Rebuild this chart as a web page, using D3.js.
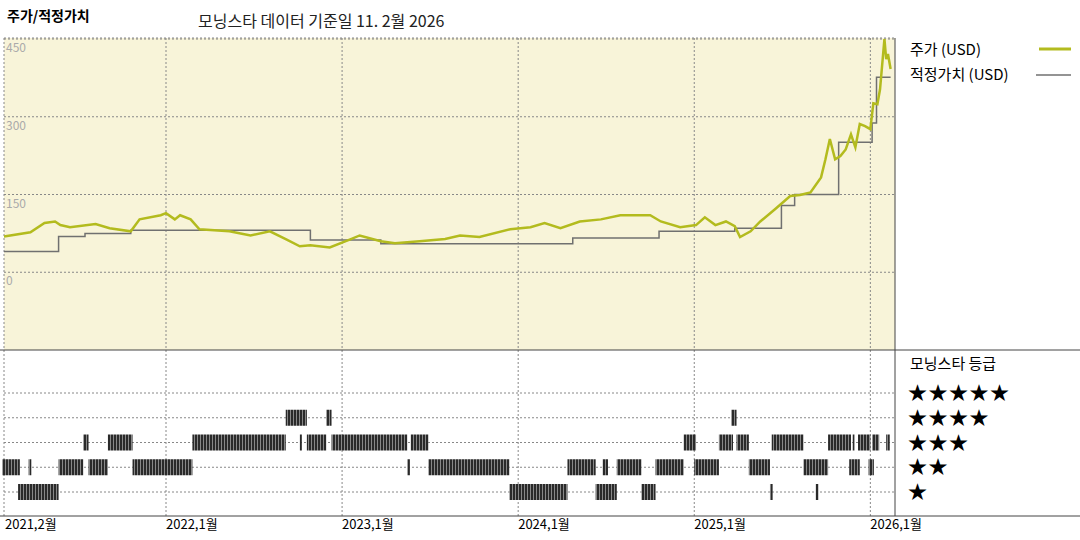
<!DOCTYPE html>
<html><head><meta charset="utf-8">
<script src="https://cdn.jsdelivr.net/npm/d3@7"></script>
<style>body{margin:0;background:#fff}text{font-family:"Noto Sans CJK KR","Noto Sans",sans-serif}</style>
</head><body><svg id="c" width="1080" height="540"></svg>
<script>
// price (decimal year, USD)
var priceYears = [2021.08,2021.23,2021.31,2021.37,2021.40,2021.455,2021.60,2021.68,2021.80,2021.85,2021.97,2022.0,2022.05,2022.08,2022.14,2022.19,2022.36,2022.48,2022.59,2022.68,2022.76,2022.82,2022.93,2023.05,2023.10,2023.22,2023.30,2023.44,2023.585,2023.67,2023.78,2023.955,2024.07,2024.15,2024.24,2024.35,2024.47,2024.58,2024.75,2024.81,2024.92,2025.01,2025.06,2025.12,2025.18,2025.23,2025.26,2025.32,2025.375,2025.46,2025.545,2025.60,2025.66,2025.72,2025.745,2025.77,2025.80,2025.83,2025.86,2025.89,2025.915,2025.94,2025.97,2026.0,2026.017,2026.04,2026.055,2026.07,2026.08,2026.09,2026.10,2026.115];
var priceValues = [69,77,95,98,91,87,93,85,79,102,110,114,102,110,102,83,79,71,79,64,50,52,48,64,71,60,56,60,64,71,68,83,87,95,85,98,102,110,110,98,87,91,106,91,98,89,68,79,98,122,147,149,154,183,218,257,218,224,237,266,241,286,282,276,326,324,353,411,450,411,421,392];
// fair value steps
var fairYears = [2021.08,2021.39,2021.54,2021.80,2022.82,2023.22,2024.31,2024.80,2025.23,2025.495,2025.57,2025.82,2026.01,2026.035,2026.115];
var fairValues = [40,69,75,81,62,55,66,79,85,129,150,251,288,376,376];
// star rating periods [start, end, stars]
var ratingStart = [2021.16,2023.95,2024.44,2024.70,2025.43,2025.69, 2021.07,2021.22,2021.39,2021.56,2021.81,2023.37,2023.49,2024.28,2024.48,2024.56,2024.78,2025.0,2025.31,2025.62,2025.88,2025.99, 2021.53,2021.67,2022.15,2022.76,2022.80,2022.94,2023.39,2024.94,2025.14,2025.24,2025.44,2025.76,2025.90,2025.93,2026.01,2026.09, 2022.68,2022.91,2025.21];
var ratingEnd = [2021.39,2024.28,2024.56,2024.78,2025.445,2025.705, 2021.17,2021.235,2021.53,2021.67,2022.15,2023.385,2023.95,2024.44,2024.51,2024.70,2024.94,2025.14,2025.43,2025.76,2025.94,2026.02, 2021.56,2021.81,2022.68,2022.77,2022.91,2023.37,2023.49,2025.01,2025.22,2025.31,2025.62,2025.89,2025.91,2026.0,2026.05,2026.11, 2022.80,2022.94,2025.24];
var ratingStars = [1,1,1,1,1,1, 2,2,2,2,2,2,2,2,2,2,2,2,2,2,2,2, 3,3,3,3,3,3,3,3,3,3,3,3,3,3,3,3, 4,4,4];
var yTicks = [450,300,150,0];
var xTicks = [2022,2023,2024,2025,2026];
var xTickLabels = ["2022,1월","2023,1월","2024,1월","2025,1월","2026,1월"];
var starLabels = ["★★★★★","★★★★","★★★","★★","★"];

var svg = d3.select('#c');
var L = 4, R = 895, T = 38, M = 350, B = 516;
var x = d3.scaleLinear().domain([2021.08, 2026.14]).range([L, R]);
var y = d3.scaleLinear().domain([-150, 450]).range([M, T + 1]);
var yr = d3.scaleLinear().domain([5, 1]).range([393, 492]);

svg.append('rect').attr('x', L).attr('y', T).attr('width', R - L).attr('height', M - T).attr('fill', '#f8f4d9');

var dash = '2,2';
var grid = svg.append('g').attr('stroke', '#888').attr('stroke-width', 1).attr('stroke-dasharray', dash);
xTicks.forEach(function(t){ grid.append('line').attr('x1', x(t)).attr('x2', x(t)).attr('y1', T).attr('y2', B); });
grid.append('line').attr('x1', L).attr('x2', L).attr('y1', T).attr('y2', B);
yTicks.forEach(function(t){ grid.append('line').attr('x1', L).attr('x2', R).attr('y1', y(t)).attr('y2', y(t)); });
grid.append('line').attr('x1', L).attr('x2', R).attr('y1', T).attr('y2', T);
[5,4,3,2,1].forEach(function(s){ grid.append('line').attr('x1', L).attr('x2', R).attr('y1', yr(s)).attr('y2', yr(s)); });

yTicks.forEach(function(t){
  svg.append('text').attr('x', 6).attr('y', y(t) + 13).attr('font-size', 12).attr('fill', '#aaa').text(t);
});

// rating stripes
var defs = svg.append('defs');
var pat = defs.append('pattern').attr('id', 'st').attr('width', 3).attr('height', 4).attr('patternUnits', 'userSpaceOnUse');
pat.append('rect').attr('width', 3).attr('height', 4).attr('fill', '#888');
pat.append('rect').attr('width', 2).attr('height', 4).attr('fill', '#2a2a2a');
svg.append('g').selectAll('rect').data(ratingStars).join('rect')
  .attr('x', function(d, i){ return x(ratingStart[i]); })
  .attr('width', function(d, i){ return Math.max(2, x(ratingEnd[i]) - x(ratingStart[i])); })
  .attr('y', function(d){ return yr(d) - 8; }).attr('height', 16)
  .attr('fill', 'url(#st)');

var fair = fairYears.map(function(t, i){ return [t, fairValues[i]]; });
svg.append('path').attr('d', d3.line().curve(d3.curveStepAfter).x(function(d){ return x(d[0]); }).y(function(d){ return y(d[1]); })(fair))
  .attr('fill', 'none').attr('stroke', '#707070').attr('stroke-width', 1.5);
var price = priceYears.map(function(t, i){ return [t, priceValues[i]]; });
svg.append('path').attr('d', d3.line().x(function(d){ return x(d[0]); }).y(function(d){ return y(d[1]); })(price))
  .attr('fill', 'none').attr('stroke', '#b3bb1e').attr('stroke-width', 2.5);

// frame
svg.append('line').attr('x1', R).attr('x2', R).attr('y1', T).attr('y2', B).attr('stroke', '#444');
svg.append('line').attr('x1', 0).attr('x2', 1080).attr('y1', M).attr('y2', M).attr('stroke', '#444');
svg.append('line').attr('x1', 0).attr('x2', 1080).attr('y1', B).attr('y2', B).attr('stroke', '#444');

// x labels
svg.append('text').attr('x', 5).attr('y', 529).attr('font-size', 13).text('2021,2월');
xTicks.forEach(function(t, i){
  svg.append('text').attr('x', x(t)).attr('y', 529).attr('font-size', 13).text(xTickLabels[i]);
});

// titles
svg.append('text').attr('x', 7).attr('y', 21).attr('font-size', 14).attr('font-weight', 'bold').text('주가/적정가치');
svg.append('text').attr('x', 198).attr('y', 27).attr('font-size', 16).attr('fill', '#222').text('모닝스타 데이터 기준일 11. 2월 2026');

// legend
svg.append('text').attr('x', 910).attr('y', 55).attr('font-size', 15).text('주가 (USD)');
svg.append('line').attr('x1', 1039).attr('x2', 1071).attr('y1', 49).attr('y2', 49).attr('stroke', '#b3bb1e').attr('stroke-width', 3);
svg.append('text').attr('x', 910).attr('y', 80).attr('font-size', 15).text('적정가치 (USD)');
svg.append('line').attr('x1', 1036).attr('x2', 1071).attr('y1', 75).attr('y2', 75).attr('stroke', '#707070').attr('stroke-width', 1.5);
svg.append('text').attr('x', 910).attr('y', 369).attr('font-size', 15).text('모닝스타 등급');
starLabels.forEach(function(s, i){
  svg.append('text').attr('x', 908).attr('y', yr(5 - i) + 7).attr('font-size', 19).attr('letter-spacing', 1.5).attr('font-family', 'DejaVu Sans').text(s);
});
</script></body></html>
